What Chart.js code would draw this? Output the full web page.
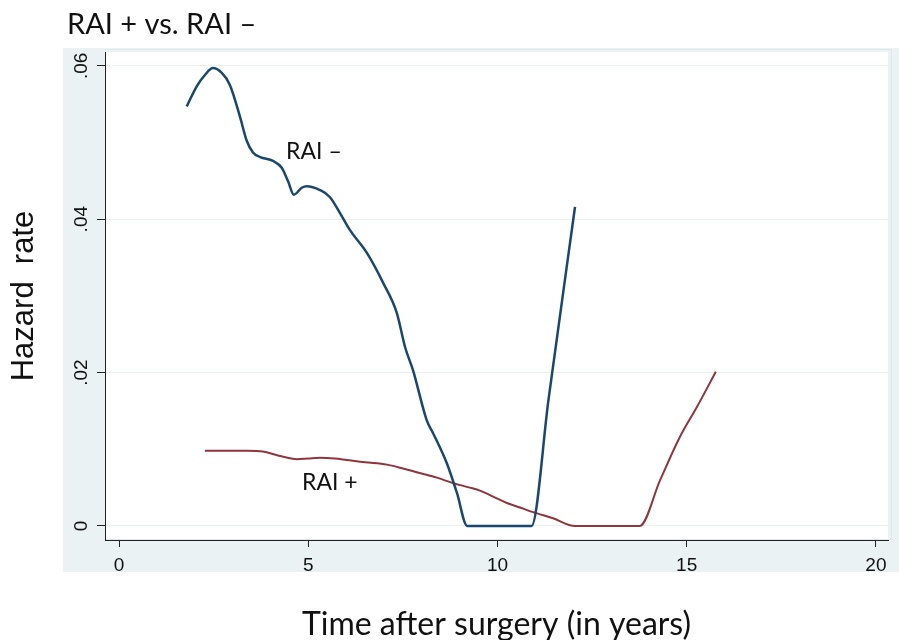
<!DOCTYPE html>
<html>
<head>
  <title>RAI + vs. RAI –</title>
  <script src="https://cdn.jsdelivr.net/npm/chart.js"></script>
  <style>
    html, body { margin: 0; padding: 0; background: #fff; }
    #wrap { width: 899px; height: 640px; }
  </style>
</head>
<body>
  <div id="wrap"><canvas id="hazard" width="899" height="640"></canvas></div>

  <script>
    // values
    const rneg_x = [1.79, 2.05, 2.27, 2.48, 2.71, 2.93, 3.2, 3.37, 3.54, 3.73, 4.07, 4.3, 4.47, 4.62, 4.83, 4.96, 5.31, 5.57, 5.84, 6.1, 6.55, 6.98, 7.34, 7.56, 7.77, 8.13, 8.3, 8.66, 8.93, 9.2, 10.9, 11.35, 11.6, 11.85, 12.05];
    const rneg_y = [0.0547, 0.0573, 0.0588, 0.0597, 0.0591, 0.0575, 0.0533, 0.0503, 0.0487, 0.0481, 0.0476, 0.0467, 0.0449, 0.0432, 0.0441, 0.0443, 0.0438, 0.0429, 0.0408, 0.0386, 0.0356, 0.0317, 0.0278, 0.0233, 0.0203, 0.0138, 0.0121, 0.0082, 0.0043, 0, 0, 0.0165, 0.0255, 0.0345, 0.0416];

    const rpos_x = [2.27, 2.6, 3.0, 3.4, 3.8, 4.2, 4.7, 5.0, 5.31, 5.7, 6.02, 6.5, 7.08, 7.5, 7.95, 8.4, 8.82, 9.27, 9.54, 9.9, 10.25, 10.6, 10.94, 11.47, 12.05, 13.76, 14.3, 14.82, 15.27, 15.77];
    const rpos_y = [0.0098, 0.0098, 0.0098, 0.0098, 0.0097, 0.0092, 0.0087, 0.0088, 0.0089, 0.0088, 0.0086, 0.0083, 0.0080, 0.0075, 0.0069, 0.0063, 0.0056, 0.0050, 0.0046, 0.0038, 0.0030, 0.0024, 0.0018, 0.0010, 0, 0, 0.0060, 0.0116, 0.0155, 0.0201];

    const xTicks = [0, 5, 10, 15, 20];
    const yTicks = [0, 0.02, 0.04, 0.06];
    const yTickLabels = ['0', '.02', '.04', '.06'];

    const labels = [
      { text: 'RAI \u2013', x: 5.15, y: 0.0488 },
      { text: 'RAI +', x: 5.57, y: 0.0056 }
    ];

    function toPoints(xs, ys) {
      return xs.map((x, i) => ({ x: x, y: ys[i] }));
    }

    const stataBg = {
      id: 'stataBg',
      beforeDraw(chart) {
        const ctx = chart.ctx;
        const a = chart.chartArea;
        ctx.save();
        ctx.fillStyle = '#ffffff';
        ctx.fillRect(0, 0, chart.width, chart.height);
        ctx.fillStyle = '#eaf2f3';
        ctx.fillRect(63, 48, 836, 524);
        ctx.fillStyle = '#ffffff';
        ctx.fillRect(a.left, a.top, a.right - a.left, a.bottom - a.top);
        ctx.strokeStyle = '#dfe8ea';
        ctx.lineWidth = 1;
        ctx.strokeRect(a.left + 0.5, a.top - 2.5, a.right - a.left + 3, a.bottom - a.top + 2);
        ctx.restore();
      },
      afterDraw(chart) {
        const ctx = chart.ctx;
        const xs = chart.scales.x, ys = chart.scales.y;
        ctx.save();
        ctx.fillStyle = '#111';
        ctx.textBaseline = 'middle';
        ctx.font = '29px Lato';
        ctx.textAlign = 'left';
        ctx.fillText('RAI + vs. RAI \u2013', 67, 25);
        ctx.font = '23px Lato';
        ctx.textAlign = 'center';
        labels.forEach(l => {
          ctx.fillText(l.text, xs.getPixelForValue(l.x), ys.getPixelForValue(l.y));
        });
        ctx.restore();
      }
    };

    new Chart(document.getElementById('hazard'), {
      type: 'line',
      data: {
        datasets: [
          {
            label: 'RAI -',
            data: toPoints(rneg_x, rneg_y),
            borderColor: '#1a476f',
            borderWidth: 2.5,
            pointRadius: 0,
            cubicInterpolationMode: 'monotone'
          },
          {
            label: 'RAI +',
            data: toPoints(rpos_x, rpos_y),
            borderColor: '#90353b',
            borderWidth: 2,
            pointRadius: 0,
            cubicInterpolationMode: 'monotone'
          }
        ]
      },
      options: {
        responsive: false,
        animation: false,
        layout: { padding: { top: 52, right: 11, left: 0, bottom: 0 } },
        plugins: {
          legend: { display: false },
          tooltip: { enabled: false }
        },
        scales: {
          x: {
            type: 'linear',
            min: -0.37,
            max: 20.32,
            afterFit: s => { s.height = 100; },
            afterBuildTicks: s => { s.ticks = xTicks.map(v => ({ value: v })); },
            grid: { drawOnChartArea: false, tickLength: 7, tickColor: '#222', color: '#222' },
            border: { display: true, color: '#222', width: 1 },
            ticks: { color: '#111', font: { family: 'Liberation Sans', size: 19 }, padding: 7, maxRotation: 0 },
            title: {
              display: true,
              text: 'Time after surgery (in years)',
              color: '#111',
              font: { family: 'Lato', size: 32, lineHeight: 1 },
              padding: { top: 0, bottom: -1 }
            }
          },
          y: {
            min: -0.00183,
            max: 0.0618,
            afterFit: s => { s.width = 105; },
            afterBuildTicks: s => { s.ticks = yTicks.map(v => ({ value: v })); },
            grid: { color: '#eaf0f1', lineWidth: 1, tickLength: 8, tickColor: '#222' },
            border: { display: true, color: '#222', width: 1 },
            ticks: {
              color: '#111',
              font: { family: 'Liberation Sans', size: 19 },
              minRotation: 90,
              maxRotation: 90,
              crossAlign: 'center',
              padding: 2,
              callback: (v, i) => yTickLabels[i]
            },
            title: {
              display: true,
              text: 'Hazard  rate',
              color: '#111',
              font: { family: 'Liberation Sans', size: 31, lineHeight: 1 },
              padding: { top: 9, bottom: 0 }
            }
          }
        }
      },
      plugins: [stataBg]
    });
  </script>
</body>
</html>
